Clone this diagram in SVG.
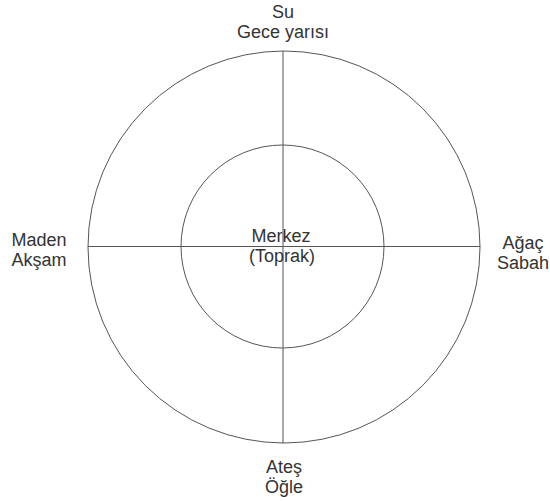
<svg xmlns="http://www.w3.org/2000/svg" width="550" height="501" viewBox="0 0 550 501">
<style>
.c{fill:none;stroke:#555;stroke-width:1}
.l{stroke:#555;stroke-width:1}
text{font-family:"Liberation Sans",Arial,sans-serif;font-size:18px;fill:#333;text-anchor:middle}
</style>
<rect width="550" height="501" fill="#fff"/>
<g id="circles">
<circle class="c" cx="284" cy="247" r="196"/>
<circle class="c" cx="282.5" cy="246.5" r="101.5"/>
</g>
<g id="connectors">
<line class="l" x1="283" y1="51" x2="283" y2="443"/>
<line class="l" x1="88" y1="246.5" x2="480" y2="246.5"/>
</g>
<g id="north"><text x="283" y="18">Su</text><text x="283" y="38">Gece yarısı</text></g>
<g id="west"><text x="39" y="246">Maden</text><text x="39" y="266">Akşam</text></g>
<g id="east"><text x="523" y="249">Ağaç</text><text x="523" y="269">Sabah</text></g>
<g id="south"><text x="284" y="473">Ateş</text><text x="284" y="493">Öğle</text></g>
<g id="center"><text x="281" y="242">Merkez</text><text x="282" y="262">(Toprak)</text></g>
</svg>
